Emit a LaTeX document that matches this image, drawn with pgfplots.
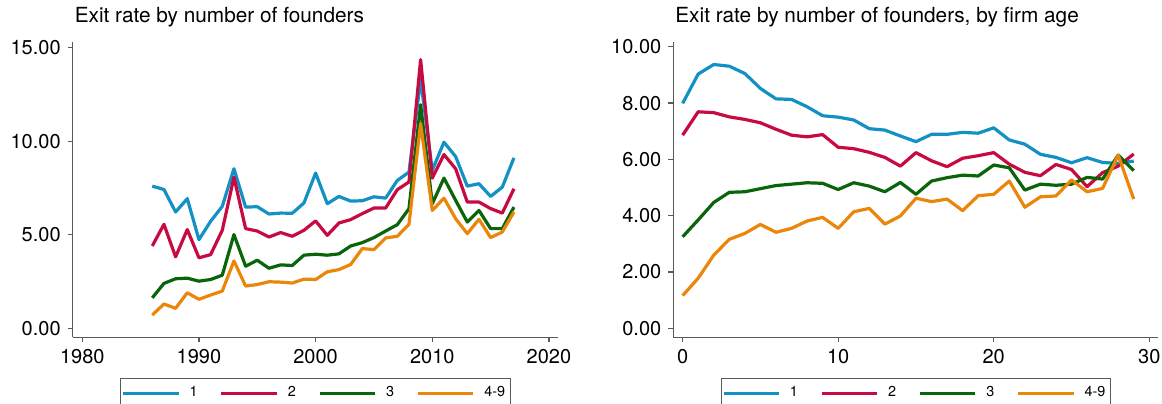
\documentclass[border=0pt]{standalone}
\usepackage{fontspec}
\setmainfont{TeX Gyre Heros}
\usepackage{pgfplots}
\pgfplotsset{compat=1.18}
\definecolor{cone}{RGB}{20,145,196}
\definecolor{ctwo}{RGB}{200,10,66}
\definecolor{cthree}{RGB}{10,100,10}
\definecolor{cfour}{RGB}{234,135,10}

\pgfplotsset{stata/.style={
  scale only axis, width=242.8pt, height=147.8pt,
  axis x line*=bottom, axis y line*=left,
  axis line style={draw=black!65, line width=0.7pt},
  tick align=outside, major tick length=2.5pt,
  tick style={draw=black!65, line width=0.6pt},
  tick label style={font=\fontsize{10}{12}\selectfont, /pgf/number format/assume math mode=true},
  yticklabel style={/pgf/number format/.cd, fixed, fixed zerofill, precision=2},
  xticklabel style={/pgf/number format/1000 sep={}},
  title style={at={(0,1)}, anchor=base west, xshift=-2.5pt, yshift=3.5pt,
               font=\fontsize{10.4}{12}\selectfont},
  legend style={at={(0.5,-0.1377)}, anchor=north, legend columns=4,
                draw=black!65, line width=0.6pt, inner xsep=0.5pt,
                font=\fontsize{7.2}{8}\selectfont,
                /tikz/every odd column/.append style={column sep=2.8pt},
                /tikz/every even column/.append style={column sep=9.2pt}},
  legend image code/.code={\draw[#1,line width=1.4pt] (0pt,0pt) -- (27.7pt,0pt);},
  every axis plot/.append style={line width=1.6pt, line join=round},
}}

\begin{document}
\begin{tikzpicture}
\path[use as bounding box] (0,0) rectangle (581pt,201.5pt);

% left: by year
\begin{axis}[stata,
  at={(36.35pt,32.85pt)}, anchor=south west,
  title={Exit rate by number of founders},
  xmin=1979.18, xmax=2020.8, ymin=-0.48, ymax=15.32,
  xtick={1980,1990,2000,2010,2020}, ytick={0,5,10,15},
]
\addplot[cone] coordinates {
(1986,7.60)(1987,7.42)(1988,6.22)(1989,6.93)(1990,4.74)(1991,5.72)(1992,6.52)
(1993,8.53)(1994,6.48)(1995,6.50)(1996,6.11)(1997,6.16)(1998,6.15)(1999,6.70)
(2000,8.30)(2001,6.66)(2002,7.05)(2003,6.80)(2004,6.82)(2005,7.03)(2006,6.96)
(2007,7.90)(2008,8.35)(2009,13.30)(2010,8.45)(2011,9.95)(2012,9.18)(2013,7.60)
(2014,7.73)(2015,7.05)(2016,7.55)(2017,9.11)};
\addlegendentry{1}
\addplot[ctwo] coordinates {
(1986,4.40)(1987,5.56)(1988,3.82)(1989,5.28)(1990,3.77)(1991,3.94)(1992,5.24)
(1993,8.08)(1994,5.33)(1995,5.20)(1996,4.88)(1997,5.12)(1998,4.92)(1999,5.24)
(2000,5.74)(2001,4.97)(2002,5.63)(2003,5.81)(2004,6.13)(2005,6.43)(2006,6.43)
(2007,7.41)(2008,7.82)(2009,14.36)(2010,8.03)(2011,9.29)(2012,8.53)(2013,6.75)
(2014,6.75)(2015,6.40)(2016,6.16)(2017,7.46)};
\addlegendentry{2}
\addplot[cthree] coordinates {
(1986,1.63)(1987,2.40)(1988,2.65)(1989,2.68)(1990,2.52)(1991,2.61)(1992,2.84)
(1993,5.01)(1994,3.32)(1995,3.64)(1996,3.21)(1997,3.39)(1998,3.36)(1999,3.91)
(2000,3.96)(2001,3.91)(2002,3.98)(2003,4.40)(2004,4.58)(2005,4.85)(2006,5.20)
(2007,5.54)(2008,6.39)(2009,11.95)(2010,6.66)(2011,8.03)(2012,6.84)(2013,5.68)
(2014,6.30)(2015,5.33)(2016,5.33)(2017,6.48)};
\addlegendentry{3}
\addplot[cfour] coordinates {
(1986,0.71)(1987,1.30)(1988,1.07)(1989,1.90)(1990,1.55)(1991,1.78)(1992,1.99)
(1993,3.60)(1994,2.26)(1995,2.34)(1996,2.49)(1997,2.47)(1998,2.42)(1999,2.63)
(2000,2.61)(2001,3.02)(2002,3.14)(2003,3.41)(2004,4.26)(2005,4.21)(2006,4.83)
(2007,4.92)(2008,5.56)(2009,10.95)(2010,6.30)(2011,6.96)(2012,5.86)(2013,5.06)
(2014,5.83)(2015,4.85)(2016,5.15)(2017,6.22)};
\addlegendentry{4-9}
\end{axis}

% right: by firm age
\begin{axis}[stata,
  at={(336.65pt,32.85pt)}, anchor=south west, width=242.5pt,
  title={Exit rate by number of founders, by firm age},
  xmin=-0.6, xmax=30.58, ymin=-0.32, ymax=10.18,
  xtick={0,10,20,30}, ytick={0,2,4,6,8,10},
]
\addplot[cone] coordinates {
(0,7.99)(1,9.03)(2,9.37)(3,9.31)(4,9.05)(5,8.52)(6,8.15)(7,8.13)(8,7.87)(9,7.55)
(10,7.50)(11,7.40)(12,7.09)(13,7.04)(14,6.83)(15,6.63)(16,6.89)(17,6.89)(18,6.96)(19,6.93)
(20,7.12)(21,6.69)(22,6.54)(23,6.18)(24,6.07)(25,5.88)(26,6.06)(27,5.89)(28,5.86)(29,5.94)};
\addlegendentry{1}
\addplot[ctwo] coordinates {
(0,6.86)(1,7.69)(2,7.66)(3,7.51)(4,7.42)(5,7.30)(6,7.07)(7,6.86)(8,6.80)(9,6.88)
(10,6.43)(11,6.38)(12,6.25)(13,6.07)(14,5.76)(15,6.24)(16,5.95)(17,5.74)(18,6.04)(19,6.13)
(20,6.24)(21,5.83)(22,5.54)(23,5.42)(24,5.82)(25,5.64)(26,5.03)(27,5.53)(28,5.76)(29,6.19)};
\addlegendentry{2}
\addplot[cthree] coordinates {
(0,3.25)(1,3.85)(2,4.47)(3,4.83)(4,4.85)(5,4.96)(6,5.07)(7,5.12)(8,5.17)(9,5.15)
(10,4.93)(11,5.17)(12,5.05)(13,4.85)(14,5.18)(15,4.76)(16,5.23)(17,5.35)(18,5.44)(19,5.41)
(20,5.80)(21,5.70)(22,4.91)(23,5.12)(24,5.08)(25,5.12)(26,5.36)(27,5.30)(28,6.15)(29,5.60)};
\addlegendentry{3}
\addplot[cfour] coordinates {
(0,1.16)(1,1.78)(2,2.60)(3,3.16)(4,3.37)(5,3.69)(6,3.41)(7,3.55)(8,3.81)(9,3.94)
(10,3.55)(11,4.14)(12,4.26)(13,3.70)(14,3.99)(15,4.62)(16,4.50)(17,4.59)(18,4.18)(19,4.71)
(20,4.76)(21,5.23)(22,4.30)(23,4.67)(24,4.70)(25,5.27)(26,4.85)(27,4.97)(28,6.15)(29,4.59)};
\addlegendentry{4-9}
\end{axis}
\end{tikzpicture}
\end{document}
